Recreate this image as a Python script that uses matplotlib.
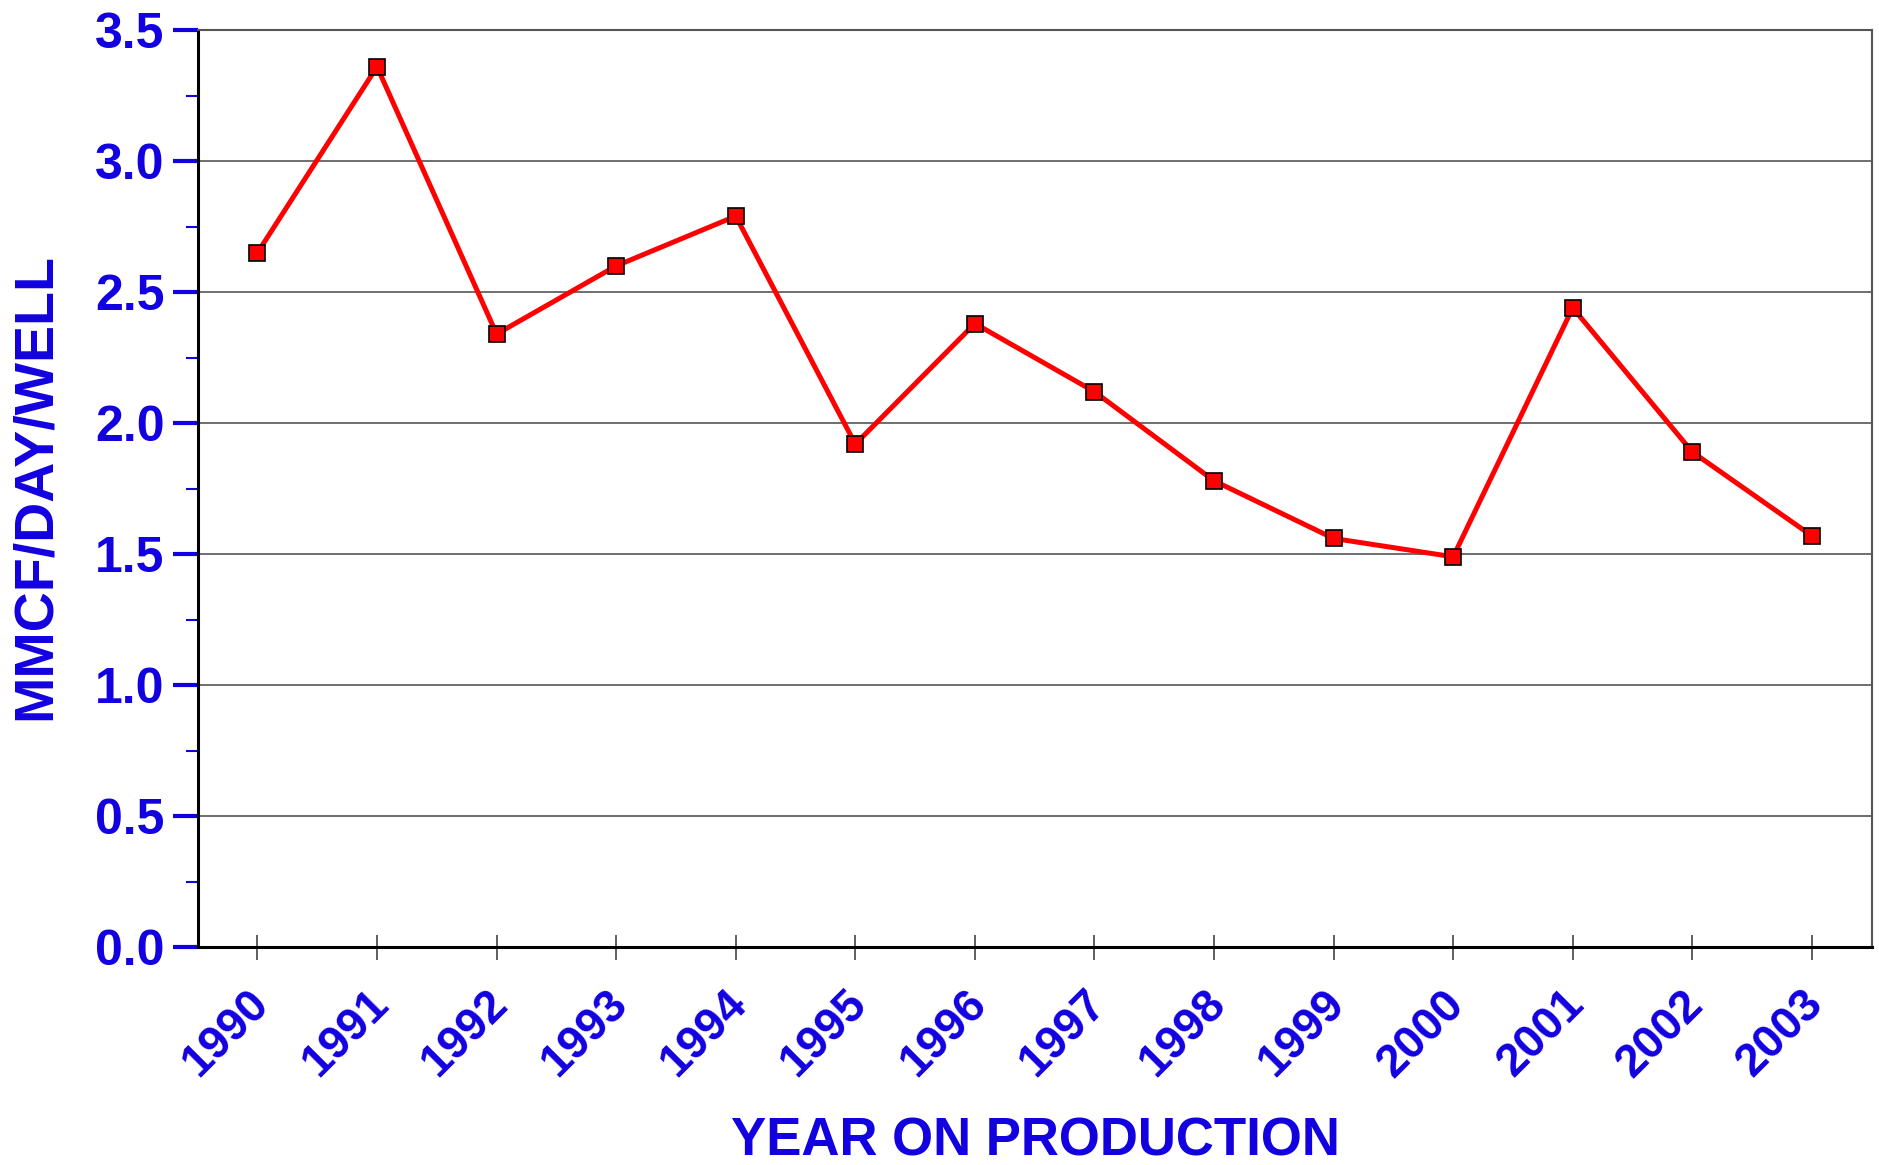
import numpy as np
import matplotlib
matplotlib.use("Agg")
import matplotlib.pyplot as plt
import matplotlib.transforms as mtransforms
from matplotlib.ticker import MultipleLocator

plt.rcParams['font.family'] = ['Liberation Sans', 'DejaVu Sans']

years = [1990, 1991, 1992, 1993, 1994, 1995, 1996, 1997, 1998, 1999, 2000, 2001, 2002, 2003]
rate = [2.65, 3.36, 2.34, 2.60, 2.79, 1.92, 2.38, 2.12, 1.78, 1.56, 1.49, 2.44, 1.89, 1.57]

blue = '#1200E0'

fig = plt.figure(figsize=(18.79, 11.65), dpi=100)
ax = fig.add_axes([0.1052, 0.1869, 0.8909, 0.7873])

ax.plot(years, rate, color='red', linewidth=3.6, marker='s', markersize=12,
        markerfacecolor='red', markeredgecolor='black', markeredgewidth=1.2, zorder=3)

ax.set_xlim(1989.5, 2003.5)
ax.set_ylim(0, 3.5)

ax.yaxis.set_minor_locator(MultipleLocator(0.25))
ax.set_yticks(np.arange(0, 3.51, 0.5))
ax.set_yticklabels([f"{v:.1f}" for v in np.arange(0, 3.51, 0.5)])
ax.set_xticks(years)
ax.set_xticklabels([str(y) for y in years], rotation=45, ha='right', va='top',
                   rotation_mode='anchor')

ax.tick_params(axis='y', which='major', direction='out', length=18, width=3,
               color=blue, labelcolor=blue, labelsize=36, pad=6)
ax.tick_params(axis='y', which='minor', direction='out', length=9, width=1.5, color=blue)
ax.tick_params(axis='x', which='major', direction='inout', length=18, width=1.2,
               color='#444444', labelcolor=blue, labelsize=33, pad=22)

# nudge the slanted year labels so they sit under their ticks
shift = mtransforms.ScaledTranslation(-8 / 72, 6 / 72, fig.dpi_scale_trans)
for lab in ax.get_xticklabels():
    lab.set_fontweight('bold')
    lab.set_transform(lab.get_transform() + shift)
for lab in ax.get_yticklabels():
    lab.set_fontweight('bold')

ax.grid(axis='y', which='major', color='#555555', linewidth=1.2)
ax.set_axisbelow(True)

ax.spines['left'].set_linewidth(2.2)
ax.spines['bottom'].set_linewidth(2.2)
ax.spines['left'].set_color('black')
ax.spines['bottom'].set_color('black')
ax.spines['top'].set_color('#555555')
ax.spines['right'].set_color('#555555')
ax.spines['top'].set_linewidth(1.5)
ax.spines['right'].set_linewidth(1.5)

fig.text(0.551, 0.020, "YEAR ON PRODUCTION", color=blue, fontsize=38,
         fontweight='bold', ha='center', va='center')
fig.text(0.019, 0.582, "MMCF/DAY/WELL", color=blue, fontsize=40,
         fontweight='bold', ha='center', va='center', rotation=90)

fig.savefig("out.png", dpi=100)
